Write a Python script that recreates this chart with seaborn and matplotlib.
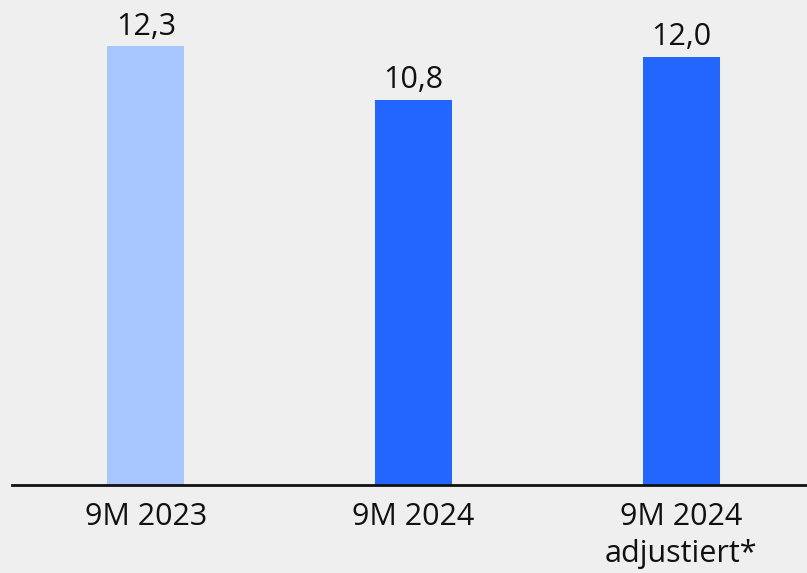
import matplotlib
matplotlib.use("Agg")
import matplotlib.pyplot as plt
import seaborn as sns
import pandas as pd

categories = ["9M 2023", "9M 2024", "9M 2024\nadjustiert*"]
values = [12.3, 10.8, 12.0]
labels = ["12,3", "10,8", "12,0"]
colors = ["#a7c5ff", "#2266ff", "#2266ff"]

sns.set_theme(style="white")
plt.rcParams["font.family"] = ["Open Sans", "DejaVu Sans"]

bg = "#efefef"
fig = plt.figure(figsize=(8.07, 5.73), dpi=100, facecolor=bg)
ax = fig.add_axes([12/807, 88/573, 795/807, 485/573])
ax.set_facecolor(bg)

df = pd.DataFrame({"cat": categories, "val": values})
sns.barplot(data=df, x="cat", y="val", hue="cat", palette=colors, width=0.288,
            legend=False, ax=ax, saturation=1, linewidth=0)

for i, (v, t) in enumerate(zip(values, labels)):
    ax.text(i, v + 0.12, t, ha="center", va="bottom", fontsize=22, color="#111111")

ax.set_xlim(-0.5, 2.47)
ax.set_ylim(0, 13.59)
ax.set_xlabel("")
ax.set_ylabel("")
ax.set_yticks([])
ax.tick_params(axis="x", length=0, pad=12, labelsize=22, labelcolor="#111111")
for lab in ax.get_xticklabels():
    lab.set_linespacing(1.3)
for s in ["top", "right", "left"]:
    ax.spines[s].set_visible(False)
ax.spines["bottom"].set_color("#111111")
ax.spines["bottom"].set_linewidth(2)

fig.savefig("out.png", dpi=100, facecolor=bg)
